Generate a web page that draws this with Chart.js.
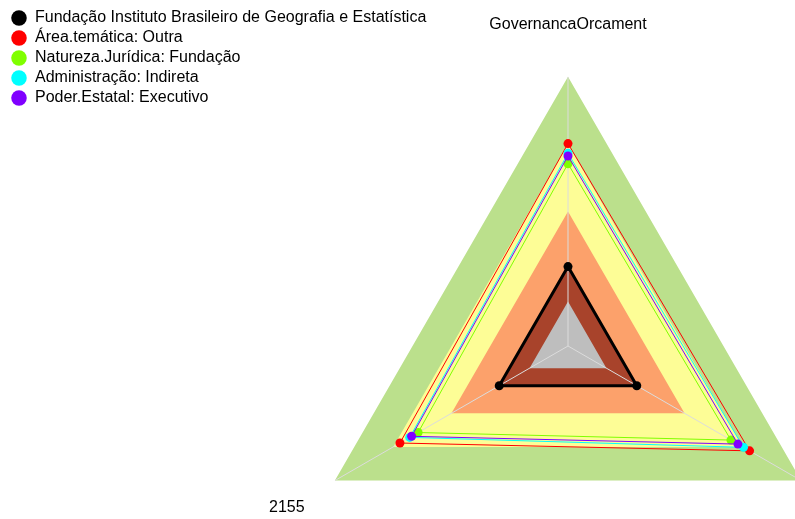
<!DOCTYPE html>
<html>
<head>
<meta charset="utf-8">
<script src="https://cdn.jsdelivr.net/npm/chart.js@4"></script>
<style>
  html, body { margin: 0; padding: 0; background: #fff; overflow: hidden; }
  #radar { position: absolute; left: 0; top: 0; }
</style>
</head>
<body>
<canvas id="radar" width="867" height="664"></canvas>
<script>
// axes: top, bottom-right (off screen), bottom-left
const axisLabels = ['GovernancaOrcament', 'Gestao', '2155'];

const seriesNames = [
    'Fundação Instituto Brasileiro de Geografia e Estatística',
    'Área.temática: Outra',
    'Natureza.Jurídica: Fundação',
    'Administração: Indireta',
    'Poder.Estatal: Executivo'
];
const seriesColors = ['#000000', '#ff0000', '#80ff00', '#00ffff', '#8000ff'];
// draw order: black on top, then purple, cyan, green, red
const seriesOrder = [0, 4, 3, 2, 1];

const ibge = [0.295, 0.295, 0.295];
const areaOutra = [0.752, 0.779, 0.721];
const natFundacao = [0.677, 0.699, 0.643];
const admIndireta = [0.716, 0.753, 0.679];
const poderExecutivo = [0.706, 0.729, 0.671];
const seriesValues = [ibge, areaOutra, natFundacao, admIndireta, poderExecutivo];

// background bands, inner to outer
const bandLimits = [0.165, 0.3, 0.5, 0.75, 1];
const bandColors = ['#bebebe', '#a8432b', '#fca16b', '#fdfd96', '#bbe08c'];

Chart.defaults.font.family = "'Liberation Sans', Arial, sans-serif";
Chart.defaults.color = '#000';

const datasets = seriesNames.map((name, i) => ({
    label: name,
    data: seriesValues[i],
    order: seriesOrder[i],
    borderColor: seriesColors[i],
    backgroundColor: seriesColors[i],
    borderWidth: i === 0 ? 3 : 1,
    pointRadius: 4.5,
    pointBorderWidth: 0,
    fill: false
}));

bandLimits.forEach((v, i) => {
    datasets.push({
        label: 'faixa ' + (i + 1),
        data: axisLabels.map(() => v),
        order: 10 + i,
        backgroundColor: bandColors[i],
        borderWidth: 0,
        pointRadius: 0,
        fill: 'origin'
    });
});

const labelPadding = [43, 16, 35];

// let the long legend names run past the narrow legend box
const legendOverflow = {
    id: 'legendOverflow',
    afterLayout(chart) {
        chart.legend.right = chart.width;
    }
};

new Chart(document.getElementById('radar'), {
    type: 'radar',
    data: { labels: axisLabels, datasets: datasets },
    plugins: [legendOverflow],
    options: {
        responsive: false,
        animation: false,
        layout: { padding: { left: 7 } },
        elements: { line: { tension: 0 } },
        scales: {
            r: {
                min: 0,
                max: 1,
                ticks: { display: false },
                grid: { display: false },
                angleLines: { color: '#dcdcdc', lineWidth: 1 },
                pointLabels: {
                    font: { size: 16 },
                    color: '#000',
                    padding: (ctx) => labelPadding[ctx.index]
                }
            }
        },
        plugins: {
            // paint the bands first so the axis lines sit on top of them
            filler: { drawTime: 'beforeDraw' },
            tooltip: { enabled: false },
            legend: {
                position: 'left',
                align: 'start',
                maxWidth: 262,
                title: { display: true, text: '', padding: 0, font: { size: 5 } },
                labels: {
                    usePointStyle: true,
                    boxWidth: 16,
                    boxHeight: 11,
                    padding: 4,
                    color: '#000',
                    font: { size: 16 },
                    filter: (item) => item.datasetIndex < seriesNames.length,
                    sort: (a, b) => a.datasetIndex - b.datasetIndex
                }
            }
        }
    }
});
</script>
</body>
</html>
